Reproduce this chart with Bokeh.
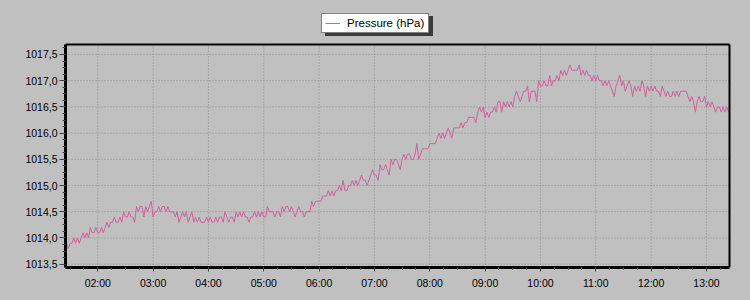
import pandas as pd
from bokeh.plotting import figure
from bokeh.models import (Range1d, SingleIntervalTicker, DatetimeTickFormatter,
                          CustomJSTickFormatter, Legend, LegendItem, ColumnDataSource)
from bokeh.embed import file_html
from bokeh.resources import INLINE

# ---- data (hPa), one reading every 2 minutes, starting 01:26 ----
series_name = "Pressure (hPa)"
start_time = "2024-05-01 01:26"
sample_step = "2min"

p_h01 = [1013.9, 1013.8, 1013.9, 1013.9, 1014.0, 1013.9, 1014.0, 1013.9, 1014.0, 1014.1,
         1014.0, 1014.1, 1014.0, 1014.2, 1014.1, 1014.1, 1014.2]
p_h02 = [1014.1, 1014.1, 1014.2, 1014.1, 1014.2, 1014.3, 1014.2, 1014.3, 1014.3, 1014.4,
         1014.3, 1014.3, 1014.4, 1014.3, 1014.5, 1014.4, 1014.4, 1014.5, 1014.4, 1014.4,
         1014.3, 1014.6, 1014.5, 1014.6, 1014.6, 1014.4, 1014.6, 1014.5, 1014.6, 1014.7]
p_h03 = [1014.4, 1014.5, 1014.5, 1014.6, 1014.5, 1014.6, 1014.6, 1014.5, 1014.6, 1014.5,
         1014.5, 1014.5, 1014.4, 1014.5, 1014.3, 1014.4, 1014.5, 1014.4, 1014.5, 1014.3,
         1014.4, 1014.5, 1014.3, 1014.4, 1014.3, 1014.4, 1014.3, 1014.3, 1014.3, 1014.4]
p_h04 = [1014.3, 1014.4, 1014.3, 1014.3, 1014.4, 1014.3, 1014.4, 1014.4, 1014.3, 1014.5,
         1014.4, 1014.3, 1014.4, 1014.4, 1014.3, 1014.5, 1014.4, 1014.5, 1014.4, 1014.5,
         1014.4, 1014.4, 1014.3, 1014.4, 1014.4, 1014.5, 1014.4, 1014.5, 1014.4, 1014.5]
p_h05 = [1014.4, 1014.4, 1014.6, 1014.5, 1014.5, 1014.5, 1014.4, 1014.5, 1014.5, 1014.4,
         1014.6, 1014.5, 1014.6, 1014.6, 1014.5, 1014.6, 1014.5, 1014.4, 1014.5, 1014.6,
         1014.5, 1014.5, 1014.4, 1014.5, 1014.5, 1014.5, 1014.7, 1014.6, 1014.7, 1014.7]
p_h06 = [1014.7, 1014.7, 1014.8, 1014.8, 1014.8, 1014.9, 1014.8, 1014.9, 1014.8, 1014.9,
         1014.9, 1015.0, 1014.9, 1015.1, 1014.9, 1014.9, 1015.0, 1015.0, 1015.1, 1015.0,
         1015.1, 1015.0, 1015.1, 1015.2, 1015.1, 1015.1, 1015.0, 1015.1, 1015.2, 1015.3]
p_h07 = [1015.2, 1015.2, 1015.1, 1015.4, 1015.3, 1015.3, 1015.4, 1015.3, 1015.2, 1015.5,
         1015.4, 1015.5, 1015.5, 1015.4, 1015.3, 1015.5, 1015.6, 1015.5, 1015.6, 1015.6,
         1015.5, 1015.5, 1015.6, 1015.8, 1015.5, 1015.6, 1015.7, 1015.7, 1015.7, 1015.7]
p_h08 = [1015.8, 1015.8, 1015.8, 1015.8, 1015.9, 1016.0, 1015.9, 1016.0, 1015.9, 1016.0,
         1016.1, 1016.0, 1015.9, 1016.1, 1016.1, 1016.1, 1016.1, 1016.2, 1016.1, 1016.2,
         1016.2, 1016.3, 1016.3, 1016.3, 1016.3, 1016.2, 1016.4, 1016.5, 1016.4, 1016.5]
p_h09 = [1016.3, 1016.4, 1016.3, 1016.4, 1016.4, 1016.5, 1016.4, 1016.6, 1016.6, 1016.4,
         1016.6, 1016.5, 1016.6, 1016.5, 1016.6, 1016.5, 1016.7, 1016.8, 1016.7, 1016.6,
         1016.7, 1016.8, 1016.8, 1016.9, 1016.6, 1016.8, 1016.8, 1016.8, 1016.6, 1017.0]
p_h10 = [1016.9, 1016.9, 1017.0, 1016.9, 1016.9, 1017.1, 1016.9, 1017.0, 1017.0, 1017.1,
         1017.0, 1017.2, 1017.1, 1017.2, 1017.1, 1017.2, 1017.3, 1017.2, 1017.2, 1017.2,
         1017.2, 1017.3, 1017.1, 1017.2, 1017.1, 1017.2, 1017.1, 1017.1, 1017.0, 1017.1]
p_h11 = [1017.0, 1017.1, 1017.0, 1017.0, 1016.9, 1017.0, 1016.9, 1017.0, 1016.9, 1016.8,
         1016.7, 1016.9, 1017.0, 1017.1, 1016.9, 1017.0, 1016.8, 1016.9, 1017.0, 1016.9,
         1016.7, 1016.9, 1016.8, 1016.9, 1016.8, 1017.0, 1016.9, 1016.7, 1016.9, 1016.8]
p_h12 = [1016.9, 1016.8, 1016.9, 1016.8, 1016.8, 1016.7, 1016.9, 1016.8, 1016.7, 1016.8,
         1016.7, 1016.7, 1016.8, 1016.7, 1016.8, 1016.7, 1016.8, 1016.8, 1016.8, 1016.8,
         1016.7, 1016.6, 1016.7, 1016.6, 1016.4, 1016.6, 1016.7, 1016.6, 1016.6, 1016.7]
p_h13 = [1016.5, 1016.6, 1016.5, 1016.6, 1016.5, 1016.4, 1016.5, 1016.5, 1016.4, 1016.5,
         1016.4, 1016.5, 1016.4]

# axis ticks / view window
y_ticks = [1013.5, 1014.0, 1014.5, 1015.0, 1015.5, 1016.0, 1016.5, 1017.0, 1017.5]
x_tick_hours = ["02:00", "03:00", "04:00", "05:00", "06:00", "07:00",
                "08:00", "09:00", "10:00", "11:00", "12:00", "13:00"]
day = "2024-05-01"
view_start = pd.Timestamp(day + " 01:25")
view_end = pd.Timestamp(day + " 13:25")
y_lo, y_hi = 1013.437, 1017.69

pressure = (p_h01 + p_h02 + p_h03 + p_h04 + p_h05 + p_h06 + p_h07 + p_h08 + p_h09
            + p_h10 + p_h11 + p_h12 + p_h13)
times = pd.date_range(start_time, periods=len(pressure), freq=sample_step)
source = ColumnDataSource(data=dict(t=times, p=pressure))
x_ticks = [pd.Timestamp(day + " " + h) for h in x_tick_hours]

GRAY = "#C0C0C0"
LINE = "#D2609A"
FONT = "Liberation Sans"

# geometry: the plotting area is 664x223 px at (65,44); the bokeh frame is
# extended to the top edge and 11px to the right so that the legend (which
# sits above the plotting area) is not clipped.
W, H = 750, 300
AREA_L, AREA_T, AREA_R, AREA_B = 65, 44, 729, 267
FRAME_R = 740
area_w, area_h = AREA_R - AREA_L, AREA_B - AREA_T
x_frame_end = view_start + (view_end - view_start) * ((FRAME_R - AREA_L) / area_w)
y_frame_top = y_lo + (y_hi - y_lo) * (AREA_B / area_h)

p = figure(width=W, height=H, x_axis_type="datetime",
           output_backend="svg", toolbar_location=None,
           x_range=Range1d(view_start, x_frame_end),
           y_range=Range1d(y_lo, y_frame_top),
           min_border_left=AREA_L, min_border_right=W - FRAME_R,
           min_border_top=0, min_border_bottom=H - AREA_B)

# grey page behind the canvas; no separate border fill
p.styles = {"background-color": GRAY}
p.background_fill_color = GRAY
p.border_fill_color = None
p.outline_line_color = None
p.xgrid.visible = False
p.ygrid.visible = False

# cover the edge of the extended frame above the plotting area
p.segment(x0=[view_start], x1=[view_start], y0=[y_hi], y1=[y_frame_top],
          line_color=GRAY, line_width=4)

# dotted grid limited to the plotting area
p.segment(x0=x_ticks, x1=x_ticks, y0=[y_lo] * len(x_ticks), y1=[y_hi] * len(x_ticks),
          line_color="#8c8c8c", line_dash="1 2", line_width=1)
p.segment(x0=[view_start] * len(y_ticks), x1=[view_end] * len(y_ticks), y0=y_ticks, y1=y_ticks,
          line_color="#8c8c8c", line_dash="1 2", line_width=1)

line_r = p.line("t", "p", source=source, line_color=LINE, line_width=1)
ghost_r = p.line("t", "p", source=source, line_alpha=0)

# top and right border of the plotting area
p.segment(x0=[view_start, view_end], x1=[view_end, view_end],
          y0=[y_hi, y_lo], y1=[y_hi, y_hi], line_color="black", line_width=2)

# axes
xt = SingleIntervalTicker(interval=3600000, num_minor_ticks=4)
yt = SingleIntervalTicker(interval=0.5, num_minor_ticks=4)
p.xaxis.ticker = xt
p.yaxis.ticker = yt
p.xaxis.bounds = (view_start.to_pydatetime(), view_end.to_pydatetime())
p.yaxis.bounds = (y_lo, y_hi)
p.xaxis.formatter = DatetimeTickFormatter(hours="%H:%M", hourmin="%H:%M",
                                          minutes="%H:%M", minsec="%H:%M",
                                          days="%H:%M")
p.yaxis.formatter = CustomJSTickFormatter(code="return tick.toFixed(1).replace('.', ',');")

for ax in (p.xaxis, p.yaxis):
    ax.axis_line_color = "black"
    ax.axis_line_width = 3
    ax.major_tick_line_color = "#404040"
    ax.minor_tick_line_color = "#404040"
    ax.major_tick_in = 0
    ax.minor_tick_in = 0
    ax.major_label_text_font = FONT
    ax.major_label_text_font_size = "10.5px"
    ax.major_label_text_color = "black"

p.yaxis.major_tick_out = 6
p.yaxis.minor_tick_out = 3
p.yaxis.major_label_standoff = 2
p.xaxis.major_tick_out = 4
p.xaxis.minor_tick_out = 2
p.xaxis.major_label_standoff = 5

# legend with drop shadow
common = dict(margin=0, padding=3, spacing=0, glyph_width=15, glyph_height=12,
              label_height=12, label_standoff=7, label_width=78,
              label_text_font=FONT, label_text_font_size="11.5px",
              border_line_width=1)
LEG_L, LEG_B = 321, 33
shadow = Legend(items=[LegendItem(label=" ", renderers=[ghost_r])],
                location=(LEG_L - AREA_L + 4, AREA_B - LEG_B - 3),
                background_fill_color="#3c3c3c", background_fill_alpha=1,
                border_line_color="#3c3c3c", label_text_color="#3c3c3c", **common)
legend = Legend(items=[LegendItem(label=series_name, renderers=[line_r])],
                location=(LEG_L - AREA_L, AREA_B - LEG_B),
                background_fill_color="white", background_fill_alpha=1,
                border_line_color="black", label_text_color="black", **common)
p.add_layout(shadow, "center")
p.add_layout(legend, "center")

open("out.html", "w").write(file_html(p, INLINE))
